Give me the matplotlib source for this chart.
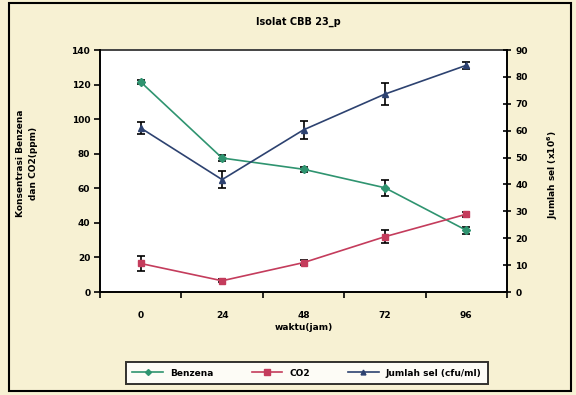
#!/usr/bin/env python3

import matplotlib
matplotlib.use("Agg")
import matplotlib.pyplot as plt
import numpy as np
from matplotlib.patches import Rectangle
from matplotlib.lines import Line2D

waktu = ["0", "24", "48", "72", "96"]
benzena = [121.5, 77.5, 71.0, 60.3, 35.7]
benzena_err = [1.0, 1.5, 1.5, 4.5, 2.0]
co2 = [16.5, 6.5, 17.0, 32.0, 45.0]
co2_err = [4.3, 1.0, 1.5, 3.9, 1.5]
jumlah_sel = [61.0, 41.8, 60.3, 73.6, 84.3]
jumlah_sel_err = [2.2, 3.3, 3.4, 4.0, 1.2]

c_benz = '#2f9470'
c_co2 = '#c43c5c'
c_sel = '#2d4270'
bg = '#f7f1d3'

plt.rcParams['font.family'] = 'DejaVu Sans'
plt.rcParams['font.weight'] = 'bold'

fig = plt.figure(figsize=(5.76, 3.95), dpi=100)
fig.patch.set_facecolor(bg)
fig.patches.append(Rectangle((9 / 576, 4 / 395), 562 / 576, 388 / 395, transform=fig.transFigure,
                             fill=False, edgecolor='black', linewidth=1.5))

ax = fig.add_axes([100 / 576, 1 - 292 / 395, 407 / 576, 242 / 395])
ax.set_facecolor('white')
x = np.arange(len(waktu))

eb = dict(ecolor='black', elinewidth=1.2, capsize=3, capthick=1.2)
ax.errorbar(x, benzena, yerr=benzena_err, color=c_benz, marker='D', markersize=4,
            linewidth=1.2, **eb)
ax.errorbar(x, co2, yerr=co2_err, color=c_co2, marker='s', markersize=4.5,
            linewidth=1.2, **eb)
ax.set_xlim(-0.5, len(waktu) - 0.5)
ax.set_ylim(0, 140)
ax.set_yticks(np.arange(0, 141, 20))
ax.set_yticklabels([str(v) for v in range(0, 141, 20)], fontsize=6.5)
ax.set_xticks(x)
ax.set_xticklabels(waktu, fontsize=6.5)
ax.set_xticks(np.arange(-0.5, len(waktu)), minor=True)
ax.tick_params(axis='x', which='major', length=0, pad=14)
ax.tick_params(axis='x', which='minor', length=4, width=1.2, direction='out')
ax.tick_params(axis='y', length=4, width=1.2, direction='out', pad=3)
ax.set_xlabel('waktu(jam)', fontsize=6.5, fontweight='bold', labelpad=2)

ax2 = ax.twinx()
ax2.errorbar(x, jumlah_sel, yerr=jumlah_sel_err, color=c_sel, marker='^', markersize=4.5,
             linewidth=1.2, **eb)
ax2.set_ylim(0, 90)
ax2.set_yticks(np.arange(0, 91, 10))
ax2.set_yticklabels([str(v) for v in range(0, 91, 10)], fontsize=6.5)
ax2.tick_params(axis='y', length=6, width=1.2, direction='inout', pad=3)

for a in (ax, ax2):
    for s in ['left', 'right', 'bottom']:
        a.spines[s].set_linewidth(1.4)
    a.spines['top'].set_visible(False)
ax.spines['right'].set_visible(False)
ax2.spines['left'].set_visible(False)
ax2.spines['bottom'].set_visible(False)
ax.plot([0, 1], [1, 1], transform=ax.transAxes, color='#444444', linewidth=1.4, clip_on=False)

fig.text(27 / 576, 1 - 163 / 395, 'Konsentrasi Benzena\ndan CO2(ppm)', rotation=90,
         ha='center', va='center', fontsize=6.5, fontweight='bold', multialignment='center',
         linespacing=1.6)
fig.text(553 / 576, 1 - 175 / 395, 'Jumlah sel (x10$^6$)', rotation=90,
         ha='center', va='center', fontsize=6.5, fontweight='bold')
fig.text(298 / 576, 1 - 22 / 395, 'Isolat CBB 23_p', ha='center', va='center',
         fontsize=7, fontweight='bold')

handles = [Line2D([], [], color=c_benz, marker='D', markersize=3, linewidth=1.2),
           Line2D([], [], color=c_co2, marker='s', markersize=4, linewidth=1.2),
           Line2D([], [], color=c_sel, marker='^', markersize=3.5, linewidth=1.2)]
leg = fig.legend(handles, ['Benzena', 'CO2', 'Jumlah sel (cfu/ml)'],
                 loc='center', bbox_to_anchor=(307 / 576, 1 - 373 / 395), ncol=3,
                 fontsize=6.5, frameon=True, fancybox=False, edgecolor='black',
                 handlelength=3.4, columnspacing=4.2, borderpad=0.7, borderaxespad=0)
leg.get_frame().set_linewidth(1.4)

fig.savefig('out.png', dpi=100, facecolor=bg)
